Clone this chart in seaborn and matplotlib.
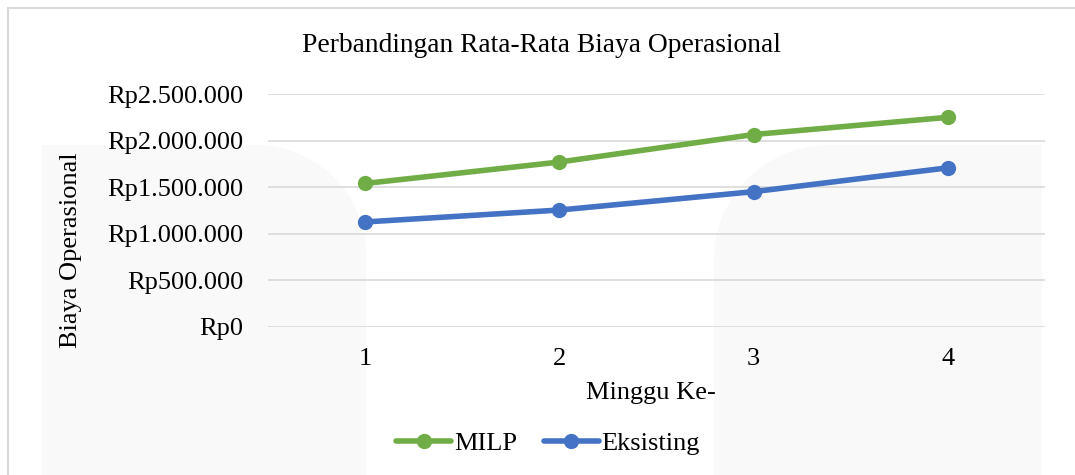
import numpy as np
import pandas as pd
import matplotlib
matplotlib.use("Agg")
import matplotlib.pyplot as plt
from matplotlib.ticker import FuncFormatter
from matplotlib.patches import Polygon, Rectangle
import seaborn as sns

# Data
weeks = [1, 2, 3, 4]
milp = [1540000, 1770000, 2065000, 2250000]
eksisting = [1127000, 1255000, 1452000, 1708000]
series_names = ["MILP", "Eksisting"]
colors = ["#70AD47", "#4472C4"]

df = pd.DataFrame({
    "Minggu": weeks * 2,
    "Biaya": milp + eksisting,
    "Seri": ["MILP"] * 4 + ["Eksisting"] * 4,
})

sns.set_style("white")
plt.rcParams["font.family"] = ["Liberation Serif", "DejaVu Serif"]
plt.rcParams["text.color"] = "black"
plt.rcParams["xtick.color"] = "black"
plt.rcParams["ytick.color"] = "black"
FS = 19

W, H = 1075, 475
fig = plt.figure(figsize=(W / 100, H / 100), dpi=100)


def fx(x):
    return x / W


def fy(y):
    return 1 - y / H


# faint background shapes (watermark)
def rounded_shape(x0, x1, ytop, r, corner):
    t = np.linspace(0, np.pi / 2, 30)
    if corner == "right":
        cx, cy = x1 - r, ytop + r
        arc = [(cx + r * np.sin(a), cy - r * np.cos(a)) for a in t]
        pts = [(x0, H + 5), (x0, ytop)] + arc + [(x1, H + 5)]
    else:
        cx, cy = x0 + r, ytop + r
        arc = [(cx - r * np.cos(a), cy - r * np.sin(a)) for a in t]
        pts = [(x0, H + 5)] + arc + [(x1, ytop), (x1, H + 5)]
    return [(fx(a), fy(b)) for a, b in pts]


for pts in [rounded_shape(42, 366, 145, 110, "right"),
            rounded_shape(714, 1042, 145, 115, "left")]:
    fig.patches.append(Polygon(pts, closed=True, transform=fig.transFigure,
                               facecolor="#F9F9F9", edgecolor="none", zorder=-5))

# outer chart border
fig.patches.append(Rectangle((fx(8), fy(H + 10)), fx(W + 10), fy(8) - fy(H + 10),
                             transform=fig.transFigure, facecolor="none",
                             edgecolor="#D9D9D9", linewidth=1.5, zorder=-4))

ax = fig.add_axes([fx(268), fy(327), fx(1045) - fx(268), fy(94) - fy(327)])
ax.set_facecolor("none")

sns.lineplot(data=df, x="Minggu", y="Biaya", hue="Seri", hue_order=series_names,
             palette=colors, marker="o", markersize=11, markeredgewidth=0,
             linewidth=4, ax=ax, legend=False)

ax.set_xlim(0.5, 4.5)
ax.set_ylim(0, 2500000)
ax.set_yticks([0, 500000, 1000000, 1500000, 2000000, 2500000])
ax.set_xticks(weeks)
ax.yaxis.set_major_formatter(FuncFormatter(lambda v, p: "Rp" + f"{int(v):,}".replace(",", ".")))
ax.grid(axis="y", color="#D9D9D9", linewidth=1.2)
ax.set_axisbelow(True)
for s in ax.spines.values():
    s.set_visible(False)
ax.tick_params(axis="y", length=0, pad=18, labelsize=FS, labelcolor="black")
ax.tick_params(axis="x", length=0, pad=15, labelsize=FS, labelcolor="black")
ax.set_xlabel("")
ax.set_ylabel("")

fig.text(fx(541), fy(46), "Perbandingan Rata-Rata Biaya Operasional",
         ha="center", va="center", fontsize=19.8, color="black")
fig.text(fx(71), fy(250), "Biaya Operasional", rotation=90,
         ha="center", va="center", fontsize=FS, color="black")
fig.text(fx(651), fy(393), "Minggu Ke-", ha="center", va="center",
         fontsize=FS, color="black")

handles = [plt.Line2D([], [], color=c, linewidth=4, marker="o", markersize=11,
                      markeredgewidth=0) for c in colors]
fig.legend(handles, series_names, loc="center", bbox_to_anchor=(fx(548), fy(443)),
           ncol=2, frameon=False, fontsize=FS, handlelength=2.1,
           handletextpad=0.1, columnspacing=1.0, labelcolor="black")

fig.savefig("out.png", dpi=100, facecolor="white")
